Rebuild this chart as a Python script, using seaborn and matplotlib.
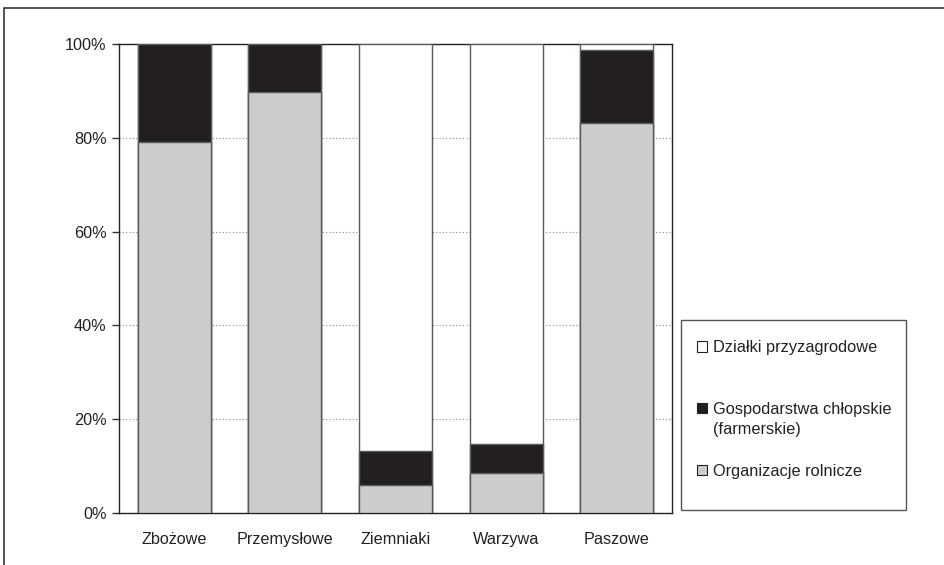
import matplotlib
matplotlib.use("Agg")
import matplotlib.pyplot as plt
import seaborn as sns
import pandas as pd
import numpy as np
from matplotlib.patches import Patch, Rectangle
from matplotlib.legend_handler import HandlerPatch

categories = ["Zbożowe", "Przemysłowe", "Ziemniaki", "Warzywa", "Paszowe"]
organizacje = [79.0, 89.8, 6.0, 8.6, 83.2]
gospodarstwa = [21.0, 10.2, 7.3, 6.1, 15.6]
dzialki = [0.0, 0.0, 86.7, 85.3, 1.2]
series_names = ["Działki przyzagrodowe\n ", "Gospodarstwa chłopskie\n(farmerskie)", "Organizacje rolnicze\n "]
yticks = [0, 20, 40, 60, 80, 100]

sns.set_theme(style="white")
plt.rcParams['font.family'] = ['Liberation Sans', 'DejaVu Sans']

df = pd.DataFrame({"cat": categories, "org": organizacje, "gosp": gospodarstwa, "dz": dzialki})
df["c1"] = df["org"]
df["c2"] = df["org"] + df["gosp"]
df["c3"] = df["org"] + df["gosp"] + df["dz"]

fig = plt.figure(figsize=(9.45, 5.65), dpi=100)
ax = fig.add_axes([119/945, 52/565, 553/945, 469/565])

edge = "#5a5a5a"
colors = {"c3": "#ffffff", "c2": "#231f20", "c1": "#cccccc"}
for col in ["c3", "c2", "c1"]:
    sns.barplot(data=df, x="cat", y=col, order=categories, color=colors[col],
                saturation=1, width=0.66, edgecolor=edge, linewidth=1.0, ax=ax, zorder=3)

ax.set_ylim(0, 100)
ax.set_xlim(-0.5, len(categories) - 0.5)
ax.set_yticks(yticks)
ax.set_yticklabels([f"{v}%" for v in yticks], fontsize=11.7, color="#222222")
ax.set_xticks(range(len(categories)))
ax.set_xticklabels(categories, fontsize=11.7, color="#222222")
ax.set_xticks(np.arange(-0.5, len(categories), 1.0), minor=True)
ax.tick_params(axis="x", which="major", length=0, pad=14)
ax.tick_params(axis="x", which="minor", length=5, width=1, color="#333333", direction="out")
ax.tick_params(axis="y", which="major", length=5, width=1, color="#333333", direction="out", pad=4, left=True)
ax.set_xlabel("")
ax.set_ylabel("")

for v in [20, 40, 60, 80]:
    ax.axhline(v, color="#888888", linestyle=(0, (1, 2)), linewidth=0.8, zorder=1)

for s in ax.spines.values():
    s.set_color("#222222")
    s.set_linewidth(1.0)

# legend frame
fig.patches.append(Rectangle((681/945, 1 - 510/565), 225/945, 190/565, transform=fig.transFigure,
                             facecolor="white", edgecolor="#555555", linewidth=1.0, zorder=0))


def top_aligned(legend, orig_handle, xdescent, ydescent, width, height, fontsize):
    return Rectangle((-xdescent, -ydescent + 0.69 * fontsize), width, height)


handles = [Patch(facecolor="#ffffff", edgecolor="#222222", linewidth=0.8),
           Patch(facecolor="#231f20", edgecolor="#222222", linewidth=0.8),
           Patch(facecolor="#cccccc", edgecolor="#222222", linewidth=0.8)]
hmap = {h: HandlerPatch(patch_func=top_aligned) for h in handles}
leg = fig.legend(handles, series_names, loc="upper left", bbox_to_anchor=(697/945, 1 - 340/565),
                 frameon=False, fontsize=11.8, handlelength=0.6, handleheight=0.6,
                 handletextpad=0.35, labelspacing=1.65, borderpad=0, borderaxespad=0,
                 handler_map=hmap)
for t in leg.get_texts():
    t.set_color("#222222")
    t.set_linespacing(1.4)

# figure border
fig.patches.append(Rectangle((4/945, -0.1), 2.0, 1 - 8/565 + 0.1, transform=fig.transFigure,
                             facecolor="none", edgecolor="#333333", linewidth=1.2, zorder=0))

fig.savefig("out.png", dpi=100)
